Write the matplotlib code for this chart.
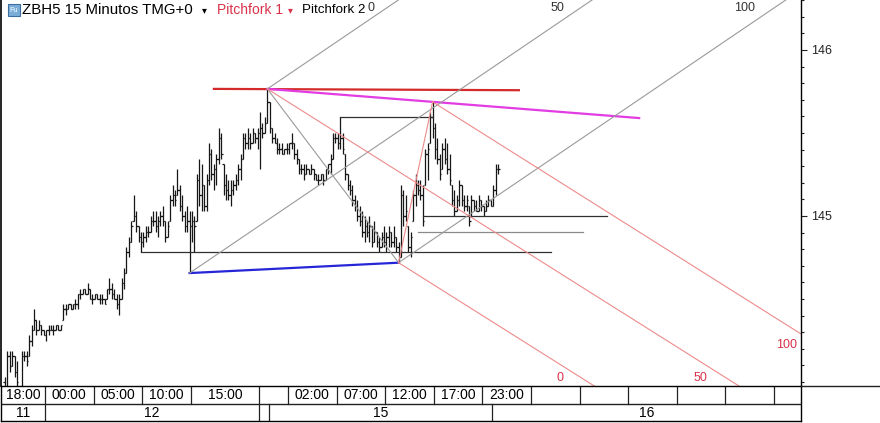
import matplotlib
matplotlib.use('Agg')
import matplotlib.pyplot as plt
from matplotlib.patches import Rectangle
from matplotlib.lines import Line2D
import numpy as np

# ZBH5 15 min bars, prices in 32nds above 144
highs = [1, 6, 6, 6, 5, 4, -1, 6, 6, 6,
         9, 11, 14, 12, 12, 11, 10, 10, 11, 11,
         11, 11, 11, 11, 15, 15, 15, 15, 15, 16,
         17, 18, 18, 18, 19, 18, 17, 17, 17, 17,
         17, 16, 18, 20, 19, 18, 17, 17, 20, 22,
         26, 28, 31, 36, 33, 30, 29, 29, 30, 30,
         32, 33, 33, 32, 33, 34, 31, 31, 36, 38,
         37, 41, 38, 36, 33, 34, 33, 33, 32, 40,
         43, 42, 38, 40, 46, 45, 42, 44, 49, 48,
         42, 40, 39, 39, 39, 40, 42, 44, 48, 48,
         49, 48, 49, 48, 49, 52, 50, 51, 56.5, 54,
         49, 48, 47, 46, 46, 45, 46, 46, 48, 46,
         45, 43, 42, 42, 42, 41, 42, 41, 40, 40,
         40, 40, 41, 42, 44, 48, 48, 48, 51, 48,
         44, 40, 39, 38, 36, 35, 34, 33, 32, 31,
         32, 30, 31, 29, 28, 29, 30, 29, 30, 29,
         30, 28, 27, 38, 37, 36, 30, 29, 37, 40,
         39, 39, 38, 45, 46, 52, 54, 50, 47, 44,
         46, 47, 46, 44, 38, 37, 36, 39, 38, 36,
         36, 34, 36, 35, 35, 36, 35, 34, 35, 36,
         35, 38, 42, 42]
lows = [-2, -1, 2, 3, 1, -1, -4, -2, 4, 3,
        5, 7, 10, 9, 10, 9, 9, 8, 9, 10,
        9, 10, 10, 10, 12, 13, 14, 14, 14, 14,
        14, 16, 17, 17, 17, 16, 15, 16, 16, 15,
        15, 15, 16, 17, 16, 16, 14, 13, 16, 18,
        21, 24, 27, 31, 29, 27, 25, 26, 27, 28,
        29, 30, 29, 28, 30, 30, 27, 28, 31, 34,
        34, 36, 33, 31, 29, 29, 21, 27, 25, 31,
        34, 33, 33, 33, 38, 39, 37, 38, 42, 43,
        36, 35, 35, 34, 36, 37, 38, 39, 43, 45,
        45, 45, 46, 46, 45, 41, 47, 48, 50, 48,
        46, 46, 44, 44, 44, 44, 44, 44, 45, 43,
        42, 40, 40, 39, 40, 40, 40, 39, 39, 38,
        39, 38, 39, 40, 40, 43, 46, 45, 45, 44,
        39, 37, 36, 34, 33, 31, 30, 28, 27, 28,
        27, 26, 27, 26, 25, 26, 26, 25, 26, 26,
        26, 25, 23, 24, 30, 31, 25, 24, 31, 34,
        36, 35, 30, 38, 39, 46, 47, 43, 42, 39,
        41, 42, 40, 38, 34, 32, 33, 34, 34, 33,
        33, 30, 32, 33, 33, 33, 33, 32, 33, 34,
        34, 34, 36, 40]
opens = [0, -1, 5, 3, 5, 2, -2, -2, 5, 5,
         5, 8, 10, 12, 10, 11, 10, 9, 10, 10,
         10, 10, 11, 10, 12, 14, 14, 15, 14, 15,
         15, 17, 17, 18, 17, 18, 16, 16, 17, 16,
         16, 16, 16, 18, 18, 17, 16, 15, 16, 19,
         21, 25, 27, 31, 32, 30, 28, 27, 28, 29,
         29, 31, 31, 30, 31, 32, 31, 28, 31, 35,
         36, 36, 37, 34, 32, 30, 31, 30, 31, 31,
         39, 36, 38, 34, 39, 44, 40, 41, 43, 47,
         42, 38, 37, 36, 37, 38, 39, 41, 43, 47,
         46, 47, 46, 48, 47, 48, 49, 48, 50, 54,
         49, 47, 46, 45, 45, 44, 45, 45, 46, 46,
         44, 43, 41, 41, 40, 41, 40, 41, 40, 39,
         39, 40, 39, 41, 42, 43, 47, 47, 46, 47,
         44, 40, 38, 37, 35, 34, 32, 31, 29, 30,
         29, 30, 27, 29, 27, 26, 28, 27, 28, 29,
         27, 28, 26, 24, 36, 32, 30, 26, 31, 36,
         38, 37, 36, 38, 44, 46, 51, 49, 45, 43,
         41, 45, 43, 41, 38, 35, 33, 35, 38, 35,
         34, 34, 32, 35, 34, 33, 35, 34, 33, 34,
         35, 34, 37, 41]
closes = [-1, 5, 3, 5, 2, 0, -3, 5, 5, 4,
          8, 10, 12, 10, 11, 10, 9, 10, 10, 10,
          10, 11, 10, 11, 14, 14, 15, 14, 15, 15,
          17, 17, 18, 17, 18, 16, 16, 17, 16, 16,
          16, 15, 18, 18, 17, 16, 15, 16, 19, 21,
          25, 27, 30, 32, 30, 28, 27, 28, 29, 29,
          31, 31, 30, 31, 32, 31, 28, 30, 35, 36,
          35, 37, 34, 32, 30, 31, 30, 31, 30, 39,
          36, 38, 34, 39, 44, 40, 41, 43, 47, 44,
          38, 37, 36, 37, 38, 39, 41, 43, 47, 46,
          47, 46, 48, 47, 48, 49, 48, 50, 54, 49,
          47, 46, 45, 45, 44, 45, 45, 46, 46, 44,
          43, 41, 41, 40, 41, 40, 41, 40, 39, 39,
          40, 39, 41, 42, 43, 47, 47, 46, 47, 45,
          40, 38, 37, 35, 34, 32, 31, 29, 30, 29,
          30, 27, 29, 27, 26, 28, 27, 28, 29, 27,
          28, 26, 24, 36, 32, 33, 26, 28, 36, 38,
          37, 36, 31, 44, 45, 51, 49, 45, 43, 40,
          45, 43, 41, 39, 35, 33, 35, 38, 35, 34,
          35, 31, 35, 34, 33, 35, 34, 33, 34, 35,
          34, 37, 41, 41]

# time axis (bar index where each cell starts)
time_breaks = [16.5, 36.5, 56.5, 76.5, 104.5, 116.5, 136.5, 156.5, 176.5,
               196.5, 216.5, 236.5, 256.5, 276.5, 296.5, 316.5]
time_labels = ['18:00', '00:00', '05:00', '10:00', '15:00', '', '02:00', '07:00',
               '12:00', '17:00', '23:00', '', '', '', '', '', '']
day_breaks = [16.5, 104.5, 108.5, 200.5]
day_labels = ['11', '12', '', '15', '16']

# pivots (bar index)
fork2_bars = [76, 108, 162]   # low, high, low
fork1_bars = [108, 162, 176]  # high, low, high

# user lines: (start bar, end bar, level in 32nds)
hlines_black = [(138, 176, 51), (172, 247.7, 32), (56, 224.7, 25)]
hline_gray = (170, 237.9, 29)


def price(n):
    return 144 + np.asarray(n, dtype=float) / 32.0


W, H = 880, 423
fig = plt.figure(figsize=(W / 100, H / 100), dpi=100)
fig.patch.set_facecolor('white')
ax = fig.add_axes([1 / W, 37 / H, 800 / W, 386 / H])
XL = (-1.6, 327.6)
YL = (143.976, 146.301)
ax.set_xlim(XL)
ax.set_ylim(YL)

x = np.arange(len(highs))
bc = '#161616'
ax.vlines(x, price(lows), price(highs), color=bc, lw=0.9)
ax.hlines(price(opens), x - 0.6, x, color=bc, lw=0.9)
ax.hlines(price(closes), x, x + 0.6, color=bc, lw=0.9)

# horizontal user lines
for a, b, lv in hlines_black:
    ax.plot([a, b], [price(lv), price(lv)], color='#303030', lw=0.9)
ax.plot([hline_gray[0], hline_gray[1]], [price(hline_gray[2])] * 2, color='#8a8a8a', lw=0.9)

P0 = (fork2_bars[0], price(lows[fork2_bars[0]]))
P1 = (fork2_bars[1], price(highs[fork2_bars[1]]))
P2 = (fork2_bars[2], price(lows[fork2_bars[2]]))
P3 = (fork1_bars[2], price(highs[fork1_bars[2]]))

# red top line, magenta line, blue line
ax.plot([86, 211.5], [P1[1], P1[1] - 0.008], color='#d42a2a', lw=1.6)
k_m = (P3[1] - P1[1]) / (P3[0] - P1[0])
ax.plot([P1[0], 261], [P1[1], P1[1] + k_m * (261 - P1[0])], color='#e23ce2', lw=1.6)
ax.plot([P0[0], P2[0]], [P0[1], P2[1]], color='#2626d8', lw=1.6)


def fork(pts, color):
    (x0, y0), (x1, y1), (x2, y2) = pts
    k = ((y1 + y2) / 2 - y0) / ((x1 + x2) / 2 - x0)
    ends = []
    for (a, b) in [(x1, y1), (x0, y0), (x2, y2)]:
        xe = 400
        ax.plot([a, xe], [b, b + k * (xe - a)], color=color, lw=0.8)
        # exit point of the plot box
        yb = YL[1] if k > 0 else YL[0]
        xb = a + (yb - b) / k
        if xb > XL[1]:
            ends.append(((XL[1], b + k * (XL[1] - a)), 'right'))
        else:
            ends.append(((xb, yb), 'edge'))
    ax.plot([x1, x2], [y1, y2], color=color, lw=0.8)
    return ends


ends2 = fork([P0, P1, P2], '#9a9a9a')
ends1 = fork([P1, P2, P3], '#ee8a8a')

for (pt, kind), lab, dx in zip(ends2, ['0', '50', '100'], [-24, -28, -31]):
    ax.annotate(lab, xy=pt, xytext=(dx, -8), textcoords='offset pixels',
                ha='right', va='center', fontsize=9, color='#333333',
                family='Liberation Sans', annotation_clip=False)
for (pt, kind), lab, dx in zip(ends1, ['0', '50', '100'], [-31, -32, -4]):
    off = (dx, -11) if kind == 'right' else (dx, 8)
    ax.annotate(lab, xy=pt, xytext=off, textcoords='offset pixels',
                ha='right', va='center', fontsize=9, color='#d8324a',
                family='Liberation Sans', annotation_clip=False)

# right price axis
ax.yaxis.tick_right()
ax.set_yticks([145, 146])
ax.set_yticklabels(['145', '146'], family='Liberation Sans', fontsize=9)
ax.set_yticks(np.arange(144.0, 146.31, 0.1), minor=True)
ax.tick_params(axis='y', which='major', length=4, width=0.8, pad=3, colors='#222222')
ax.tick_params(axis='y', which='minor', length=2.5, width=0.8, colors='#222222')
ax.set_xticks([])
for s in ['top', 'bottom']:
    ax.spines[s].set_visible(False)
ax.spines['right'].set_linewidth(1)
ax.spines['left'].set_linewidth(1.2)

# time axis
axb = fig.add_axes([1 / W, 2 / H, 800 / W, 35 / H])
axb.set_xlim(XL)
axb.set_ylim(0, 35)
axb.set_xticks([])
axb.set_yticks([])
for s in axb.spines.values():
    s.set_linewidth(1)
axb.axhline(17, color='#222222', lw=1)
tf = ['Liberation Sans Narrow', 'Liberation Sans']
edges = [XL[0]] + time_breaks + [XL[1]]
for b in time_breaks:
    axb.plot([b, b], [17, 35], color='#222222', lw=0.9)
for l, r, lab in zip(edges[:-1], edges[1:], time_labels):
    axb.text((l + r) / 2, 26, lab, ha='center', va='center', fontsize=10, family=tf)
dedges = [XL[0]] + day_breaks + [XL[1]]
for b in day_breaks:
    axb.plot([b, b], [0, 17], color='#222222', lw=0.9)
for l, r, lab in zip(dedges[:-1], dedges[1:], day_labels):
    axb.text((l + r) / 2, 8.5, lab, ha='center', va='center', fontsize=10, family=tf)

# right panel separator
fig.add_artist(Line2D([801 / W, 1], [37 / H, 37 / H], color='#222222', lw=1))

# header
fig.add_artist(Rectangle((8 / W, 1 - 16 / H), 12 / W, 12 / H, transform=fig.transFigure,
                         facecolor='#7aaed8', edgecolor='#3d6f9e', lw=0.8))
fig.text(14 / W, 1 - 10 / H, 'Fu', fontsize=5, color='white', ha='center', va='center',
         family='Liberation Sans')
hf = ['Liberation Sans', 'DejaVu Sans']
fig.text(22 / W, 1 - 10 / H, 'ZBH5 15 Minutos TMG+0', fontsize=10.8, va='center', family=hf)
fig.text(202 / W, 1 - 10 / H, '\u25be', fontsize=7, va='center', family=hf)
fig.text(217 / W, 1 - 10 / H, 'Pitchfork 1', fontsize=10, va='center', color='#d8324a', family=hf)
fig.text(288 / W, 1 - 10 / H, '\u25be', fontsize=7, va='center', color='#d8324a', family=hf)
fig.text(302 / W, 1 - 10 / H, 'Pitchfork 2', fontsize=9.6, va='center', family=hf)

fig.savefig('out.png', dpi=100)
